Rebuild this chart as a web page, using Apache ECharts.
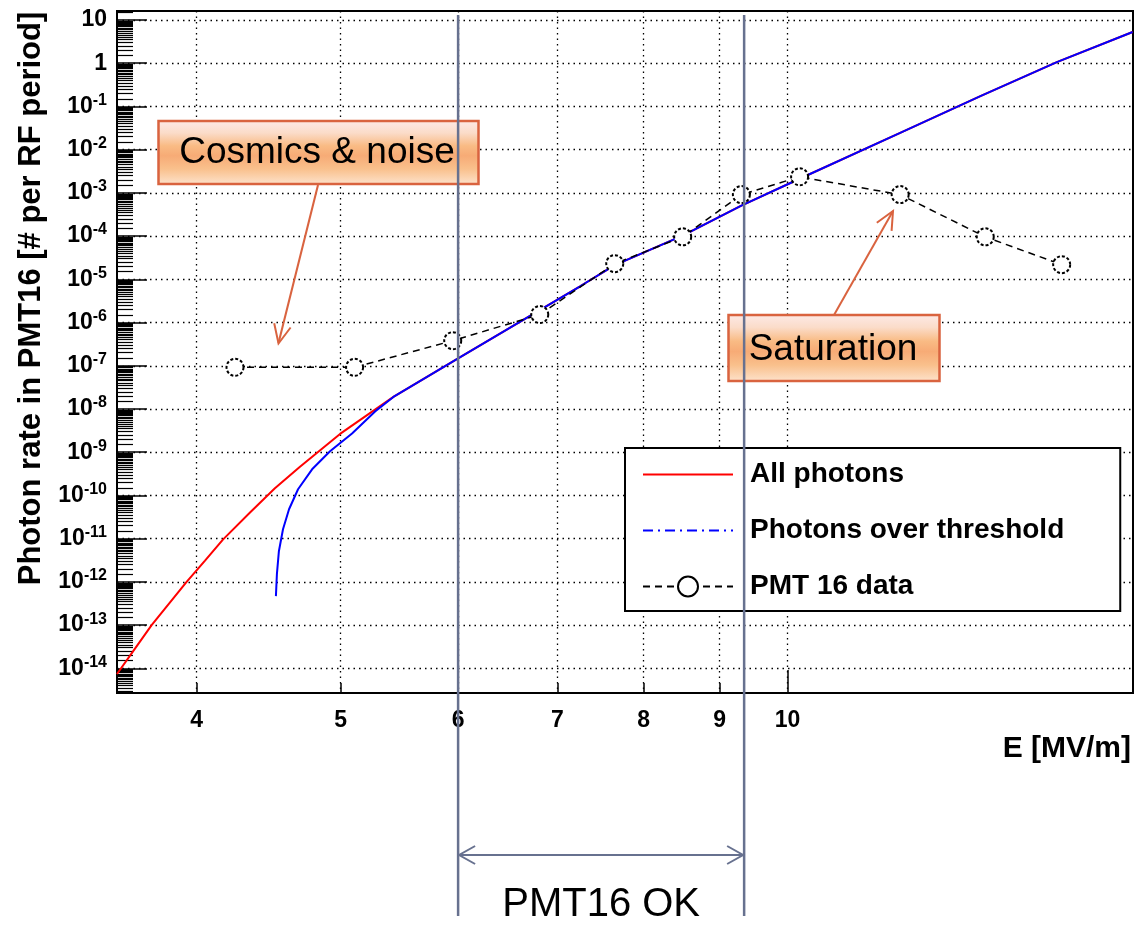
<!DOCTYPE html>
<html><head><meta charset="utf-8">
<script src="https://cdn.jsdelivr.net/npm/echarts@6/dist/echarts.min.js"></script>
<style>html,body{margin:0;padding:0;background:#fff}#chart{width:1136px;height:925px}</style>
</head><body><div id="chart"></div>
<script>
// ---- data ----
const allE    = [3.535, 3.629, 3.730, 3.832, 3.938, 4.052, 4.166, 4.345, 4.516, 4.695, 4.996, 5.427, 6.00, 6.81, 7.25, 7.65, 8.50, 9.31, 10.19, 11.91, 13.50, 15.20, 17.08];
const allRate = [7.4e-15, 2.65e-14, 1.0e-13, 3.14e-13, 1.0e-12, 3.09e-12, 9.5e-12, 4.02e-11, 1.46e-10, 4.63e-10, 2.65e-9, 1.9e-8, 1.49e-7, 1.93e-6, 6.9e-6, 2.13e-5, 1.02e-4, 5.05e-4, 2.12e-3, 2.45e-2, 0.175, 1.07, 5.27];
const thrE    = [4.523, 4.530, 4.544, 4.573, 4.616, 4.681, 4.784, 4.919, 5.090, 5.275, 5.427, 6.00, 6.81, 7.25, 7.65, 8.50, 9.31, 10.19, 11.91, 13.50, 15.20, 17.08];
const thrRate = [4.68e-13, 1.51e-12, 5.13e-12, 1.65e-11, 4.79e-11, 1.39e-10, 4.02e-10, 1.05e-9, 2.72e-9, 8.79e-9, 1.9e-8, 1.49e-7, 1.93e-6, 6.9e-6, 2.13e-5, 1.02e-4, 5.05e-4, 2.12e-3, 2.45e-2, 0.175, 1.07, 5.27];
const pmtE    = [4.245, 5.11, 5.95, 6.81, 7.65, 8.50, 9.31, 10.19, 11.91, 13.59, 15.3];
const pmtRate = [9.2e-8, 9.2e-8, 3.8e-7, 1.53e-6, 2.3e-5, 9.6e-5, 9.1e-4, 2.35e-3, 9.1e-4, 9.6e-5, 2.18e-5];
const okRange = [6.0, 9.35];
const xTickLabels = [4, 5, 6, 7, 8, 9, 10];
const yTickExponents = [-14, -13, -12, -11, -10, -9, -8, -7, -6, -5, -4, -3, -2, -1, 0, 1];
const yMinorMantissas = [1.5, 2, 2.5, 3, 3.5, 4, 4.5, 5, 5.5, 6, 6.5, 7, 7.5, 8, 8.5, 9, 9.5];
const xRange = [3.535, 17.09];
const yRange = [2.69e-15, 16.1];

// ---- helpers ----
const lg = Math.log10;
const FONT = '"Liberation Sans", Arial, Helvetica, sans-serif';
const toPts = (xs, ys) => xs.map((x, i) => [lg(x), lg(ys[i])]);
const xMin = lg(xRange[0]), xMax = lg(xRange[1]);
const yMin = lg(yRange[0]), yMax = lg(yRange[1]);
const yMinor = [];
for (let k = -15; k <= 1; k++) {
  yMinorMantissas.forEach(m => { const v = k + lg(m); if (v > yMin && v < yMax) yMinor.push(v); });
}
const annoColor = '#d9633f';
const rangeColor = '#67718f';
const boxFill = new echarts.graphic.LinearGradient(0, 0, 0, 1, [
  { offset: 0, color: '#fdeae8' }, { offset: 0.2, color: '#fbdcc9' },
  { offset: 0.4, color: '#f9bb84' }, { offset: 0.55, color: '#f7ab76' },
  { offset: 0.75, color: '#f9c08c' }, { offset: 1, color: '#fde4cf' }
]);
const noSymbol = { color: 'rgba(0,0,0,0)', borderColor: 'rgba(0,0,0,0)', borderWidth: 0, opacity: 0 };

const chart = echarts.init(document.getElementById('chart'), null, { renderer: 'canvas' });
const option = {
  animation: false,
  backgroundColor: '#fff',
  textStyle: { fontFamily: FONT },
  grid: { left: 117, right: 3, top: 11, bottom: 232, show: true, borderColor: '#000', borderWidth: 2, outerBoundsMode: 'none' },
  xAxis: [{
    type: 'value', min: xMin, max: xMax, position: 'bottom',
    axisLine: { show: true, onZero: false, lineStyle: { color: '#000', width: 2 } },
    axisTick: { show: true, inside: true, length: 10, customValues: xTickLabels.map(lg), lineStyle: { color: '#000', width: 1.5 } },
    axisLabel: { customValues: xTickLabels.map(lg), formatter: v => String(Math.round(Math.pow(10, v))),
      fontFamily: FONT, fontSize: 23, fontWeight: 'bold', color: '#000', margin: 16 },
    splitLine: { show: true, lineStyle: { color: '#000', width: 1.3, type: [1.5, 4] } },
    name: 'E [MV/m]', nameLocation: 'end', nameGap: 0,
    nameTextStyle: { fontFamily: FONT, fontSize: 30, fontWeight: 'bold', color: '#000', align: 'right', verticalAlign: 'top', padding: [41, 2, 0, 0] }
  }, {
    type: 'value', min: xMin, max: xMax, position: 'bottom',
    axisLine: { show: false, onZero: false },
    axisTick: { show: true, inside: true, length: 23, customValues: [lg(10)], lineStyle: { color: '#000', width: 1.5 } },
    axisLabel: { show: false }, splitLine: { show: false }
  }],
  yAxis: [{
    type: 'value', min: yMin, max: yMax, position: 'left',
    axisLine: { show: true, onZero: false, lineStyle: { color: '#000', width: 2 } },
    axisTick: { show: true, inside: true, length: 30, customValues: yTickExponents, lineStyle: { color: '#000', width: 1.5 } },
    axisLabel: {
      customValues: yTickExponents, margin: 10,
      formatter: v => { const k = Math.round(v); if (k === 1) return '{b|10}'; if (k === 0) return '{b|1}'; return '{b|10}{s|' + k + '}'; },
      rich: {
        b: { fontFamily: FONT, fontSize: 23, fontWeight: 'bold', color: '#000', lineHeight: 28 },
        s: { fontFamily: FONT, fontSize: 16, fontWeight: 'bold', color: '#000', lineHeight: 18, verticalAlign: 'top' }
      }
    },
    splitLine: { show: true, lineStyle: { color: '#000', width: 1.3, type: [1.5, 4] } },
    name: 'Photon rate in PMT16 [# per RF period]', nameLocation: 'middle', nameRotate: 90, nameGap: 68,
    nameTextStyle: { fontFamily: FONT, fontSize: 31, fontWeight: 'bold', color: '#000', padding: [0, 0, 0, 107] }
  }, {
    type: 'value', min: yMin, max: yMax, position: 'left',
    axisLine: { show: false, onZero: false },
    axisTick: { show: true, inside: true, length: 16, customValues: yMinor, lineStyle: { color: '#000', width: 1.2 } },
    axisLabel: { show: false }, splitLine: { show: false }
  }],
  legend: {
    show: true, orient: 'vertical', left: 625, top: 448,
    backgroundColor: '#fff', borderColor: '#000', borderWidth: 2,
    padding: [12.5, 56, 10.5, 17], itemWidth: 90, itemHeight: 25, itemGap: 28,
    selectedMode: false,
    textStyle: { fontFamily: FONT, fontSize: 28, fontWeight: 'bold', color: '#000', padding: [0, 0, 0, 12] },
    data: [
      { name: 'All photons', itemStyle: noSymbol },
      { name: 'Photons over threshold', itemStyle: noSymbol, lineStyle: { type: [10, 5, 2, 5] } },
      { name: 'PMT 16 data' }
    ]
  },
  series: [{
    name: 'All photons', type: 'line', data: toPts(allE, allRate),
    symbol: 'none', showSymbol: false, smooth: false,
    lineStyle: { color: '#ff0000', width: 2 }, itemStyle: { color: '#ff0000' }, z: 2, silent: true
  }, {
    name: 'Photons over threshold', type: 'line', data: toPts(thrE, thrRate),
    symbol: 'none', showSymbol: false, smooth: false,
    lineStyle: { color: '#0000ff', width: 2 }, itemStyle: { color: '#0000ff' }, z: 3, silent: true
  }, {
    name: 'PMT 16 data', type: 'line', data: toPts(pmtE, pmtRate),
    symbol: 'emptyCircle', symbolSize: 17,
    lineStyle: { color: '#000', width: 1.5, type: [7, 5] },
    itemStyle: { color: '#000', borderColor: '#000', borderWidth: 1.6, borderType: [3, 2] }, z: 4, silent: true
  }, {
    name: 'PMT16 OK', type: 'custom', z: 100, silent: true,
    data: [[lg(okRange[0]), lg(okRange[1])]],
    renderItem: (params, api) => {
      const x1 = api.coord([api.value(0), 0])[0];
      const x2 = api.coord([api.value(1), 0])[0];
      const cs = params.coordSys;
      const bottom = cs.y + cs.height;
      const top = cs.y + 4, lineBottom = bottom + 223, ay = bottom + 162, ty = bottom + 212;
      const ls = { stroke: rangeColor, lineWidth: 2.5, fill: null };
      const as = { stroke: rangeColor, lineWidth: 2, fill: null };
      return { type: 'group', children: [
        { type: 'line', shape: { x1: x1, y1: top, x2: x1, y2: lineBottom }, style: ls },
        { type: 'line', shape: { x1: x2, y1: top, x2: x2, y2: lineBottom }, style: ls },
        { type: 'line', shape: { x1: x1, y1: ay, x2: x2, y2: ay }, style: as },
        { type: 'polyline', shape: { points: [[x1 + 17, ay - 9], [x1 + 1, ay], [x1 + 17, ay + 9]] }, style: as },
        { type: 'polyline', shape: { points: [[x2 - 17, ay - 9], [x2 - 1, ay], [x2 - 17, ay + 9]] }, style: as },
        { type: 'text', x: (x1 + x2) / 2, y: ty, style: { text: 'PMT16 OK', fill: '#000', fontFamily: FONT, fontSize: 40, align: 'center', verticalAlign: 'middle' } }
      ] };
    }
  }],
  graphic: [
    { type: 'rect', z: 50, shape: { x: 158.5, y: 121, width: 320, height: 63 }, style: { fill: boxFill, stroke: annoColor, lineWidth: 2.5 } },
    { type: 'text', z: 51, x: 317, y: 153, style: { text: 'Cosmics & noise', fill: '#000', fontFamily: FONT, fontSize: 37, align: 'center', verticalAlign: 'middle' } },
    { type: 'polyline', z: 50, shape: { points: [[318, 185], [278.5, 343]] }, style: { stroke: annoColor, lineWidth: 2, fill: null } },
    { type: 'polyline', z: 50, shape: { points: [[290.6, 327.5], [278.5, 343.5], [274.2, 323.3]] }, style: { stroke: annoColor, lineWidth: 2, fill: null } },
    { type: 'rect', z: 50, shape: { x: 728.5, y: 315, width: 211, height: 66 }, style: { fill: boxFill, stroke: annoColor, lineWidth: 2.5 } },
    { type: 'text', z: 51, x: 833, y: 350, style: { text: 'Saturation', fill: '#000', fontFamily: FONT, fontSize: 37, align: 'center', verticalAlign: 'middle' } },
    { type: 'polyline', z: 50, shape: { points: [[834, 315], [893, 211]] }, style: { stroke: annoColor, lineWidth: 2, fill: null } },
    { type: 'polyline', z: 50, shape: { points: [[876.8, 222.8], [893, 211], [891.6, 230.9]] }, style: { stroke: annoColor, lineWidth: 2, fill: null } }
  ]
};
chart.setOption(option);
</script>
</body></html>
